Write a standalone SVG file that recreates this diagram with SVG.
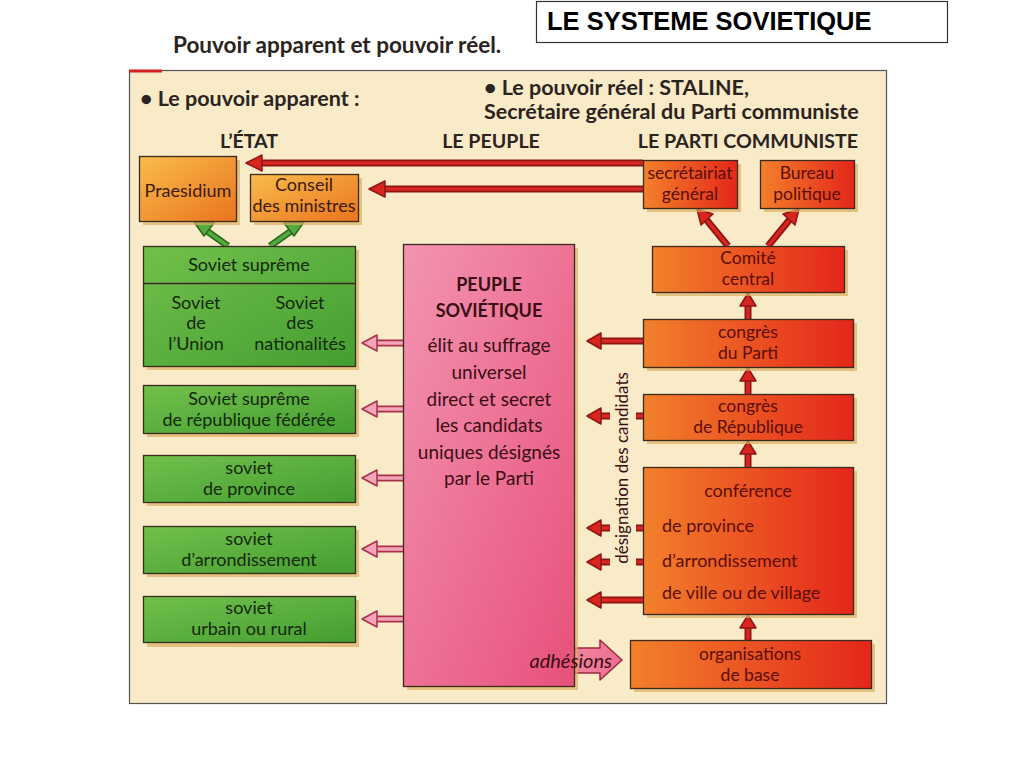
<svg xmlns="http://www.w3.org/2000/svg" width="1024" height="768" viewBox="0 0 1024 768">
<defs>
<linearGradient id="gState" x1="0" y1="0" x2="1" y2="1"><stop offset="0" stop-color="#f8bc4c"/><stop offset="1" stop-color="#ea741e"/></linearGradient>
<linearGradient id="gParty" x1="0" y1="0" x2="1" y2="0"><stop offset="0" stop-color="#f2802a"/><stop offset="1" stop-color="#e4261a"/></linearGradient>
<linearGradient id="gGreen" x1="0" y1="0" x2="1" y2="1"><stop offset="0" stop-color="#72c04c"/><stop offset="1" stop-color="#449e30"/></linearGradient>
<linearGradient id="gPink" x1="0" y1="0" x2="1" y2="1"><stop offset="0" stop-color="#f294b0"/><stop offset="1" stop-color="#e8507c"/></linearGradient>
<linearGradient id="gAdh" x1="0" y1="0" x2="1" y2="0"><stop offset="0" stop-color="#f7a8bc"/><stop offset="1" stop-color="#ee6e90"/></linearGradient>
</defs>
<style>
text{font-family:Lato,"Open Sans","Liberation Sans",sans-serif}
.hd{font-weight:bold;fill:#2b2320}
.h1{font-size:21.5px}
.h2{font-size:19.6px;text-anchor:middle}
.box{stroke:#3a2a20;stroke-width:1.3}
.sh{fill:#dcae62;opacity:.7}
.st{font-size:18px;fill:#3a1a0c;text-anchor:middle}
.gt{font-size:18px;fill:#14280c;text-anchor:middle}
.pt{font-size:17.5px;fill:#5a0e0a;text-anchor:middle}
.ps{font-size:18px;fill:#5a0e0a;text-anchor:start}
.pk{font-size:19px;fill:#3a0e12;text-anchor:middle}
.ro{stroke:#8e1414;stroke-width:7;fill:none}
.ri{stroke:#d8261e;stroke-width:3.5;fill:none}
.rh{fill:#d8261e;stroke:#8e1414;stroke-width:1.5;stroke-linejoin:round}
.po{stroke:#a8304a;stroke-width:7;fill:none}
.pi{stroke:#f4a6b8;stroke-width:3.5;fill:none}
.ph{fill:#f4a6b8;stroke:#a8304a;stroke-width:1.5;stroke-linejoin:round}
.go{stroke:#2a6a1c;stroke-width:7;fill:none}
.gi{stroke:#54aa3c;stroke-width:3.5;fill:none}
.gh{fill:#54aa3c;stroke:#2a6a1c;stroke-width:1.5;stroke-linejoin:round}
</style>
<rect width="1024" height="768" fill="#ffffff"/>
<g id="title">
<rect x="536.5" y="1.5" width="411" height="41" fill="#ffffff" stroke="#333" stroke-width="1.2"/>
<text x="547" y="30" style="font-family:'Liberation Sans',Arial,sans-serif;font-weight:bold;font-size:25.5px;fill:#000">LE SYSTEME SOVIETIQUE</text>
</g>
<text class="hd" x="173" y="53" font-size="22.5">Pouvoir apparent et pouvoir réel.</text>
<rect x="129.5" y="70.5" width="757" height="633" fill="#f9eac8" stroke="#555" stroke-width="1.2"/>
<line x1="129" y1="71" x2="162" y2="71" stroke="#d42020" stroke-width="3"/>
<text class="hd h1" x="140" y="106">• Le pouvoir apparent :</text>
<text class="hd h1" x="484" y="95">• Le pouvoir réel : STALINE,</text>
<text class="hd h1" x="484" y="119">Secrétaire général du Parti communiste</text>
<text class="hd h2" x="249" y="148">L’ÉTAT</text>
<text class="hd h2" x="491" y="148">LE PEUPLE</text>
<text class="hd h2" x="748" y="148">LE PARTI COMMUNISTE</text>

<g id="connectors">
<path class="ro" d="M643 163H258"/><path class="ri" d="M643 163H258"/>
<polygon class="rh" points="246,163 262,155 262,171"/>
<path class="ro" d="M643 189H381"/><path class="ri" d="M643 189H381"/>
<polygon class="rh" points="369,189 385,181 385,197"/>
<path class="go" d="M228 246L204 229"/><path class="gi" d="M228 246L204 229"/>
<polygon class="gh" points="194,222 214,223 204,236"/>
<path class="go" d="M270 246L294 229"/><path class="gi" d="M270 246L294 229"/>
<polygon class="gh" points="304,222 294,236 284,223"/>
<path class="po" d="M403 343H372"/><path class="pi" d="M403 343H372"/><polygon class="ph" points="362,343 377,335 377,351"/>
<path class="po" d="M403 409H372"/><path class="pi" d="M403 409H372"/><polygon class="ph" points="362,409 377,401 377,417"/>
<path class="po" d="M403 478H372"/><path class="pi" d="M403 478H372"/><polygon class="ph" points="362,478 377,470 377,486"/>
<path class="po" d="M403 549H372"/><path class="pi" d="M403 549H372"/><polygon class="ph" points="362,549 377,541 377,557"/>
<path class="po" d="M403 619H372"/><path class="pi" d="M403 619H372"/><polygon class="ph" points="362,619 377,611 377,627"/>
<path class="ro" d="M643 341H598"/><path class="ri" d="M643 341H598"/><polygon class="rh" points="587,341 601,333 601,349"/>
<path class="ro" d="M610 416H598M636 416H643"/><path class="ri" d="M610 416H598M636 416H643"/><polygon class="rh" points="587,416 601,408 601,424"/>
<path class="ro" d="M610 528H598M636 528H643"/><path class="ri" d="M610 528H598M636 528H643"/><polygon class="rh" points="587,528 601,520 601,536"/>
<path class="ro" d="M610 562H598M636 562H643"/><path class="ri" d="M610 562H598M636 562H643"/><polygon class="rh" points="587,562 601,554 601,570"/>
<path class="ro" d="M643 600H598"/><path class="ri" d="M643 600H598"/><polygon class="rh" points="587,600 601,592 601,608"/>
<path class="ro" d="M748 640V626"/><path class="ri" d="M748 640V626"/><polygon class="rh" points="748,615 756,628 740,628"/>
<path class="ro" d="M748 467V452"/><path class="ri" d="M748 467V452"/><polygon class="rh" points="748,441 756,454 740,454"/>
<path class="ro" d="M748 394V379"/><path class="ri" d="M748 394V379"/><polygon class="rh" points="748,368 756,381 740,381"/>
<path class="ro" d="M748 319V304"/><path class="ri" d="M748 319V304"/><polygon class="rh" points="748,293 756,306 740,306"/>
<path class="ro" d="M728 246L705 218"/><path class="ri" d="M728 246L705 218"/><polygon class="rh" points="697,209 713,214 701,225"/>
<path class="ro" d="M768 246L791 218"/><path class="ri" d="M768 246L791 218"/><polygon class="rh" points="799,209 795,225 783,214"/>
<polygon points="497,648 600,648 600,640 622,660 600,680 600,673 497,673" fill="url(#gAdh)" stroke="#9a2a3e" stroke-width="1.5" stroke-linejoin="round"/>
</g>

<g id="praesidium">
<rect class="sh" x="143" y="160" width="97" height="65"/>
<rect class="box" x="139.5" y="156.5" width="97" height="65" fill="url(#gState)"/>
<text class="st" x="188" y="197">Praesidium</text>
</g>
<g id="conseil">
<rect class="sh" x="254" y="178" width="108" height="47"/>
<rect class="box" x="250.5" y="174.5" width="108" height="47" fill="url(#gState)"/>
<text class="st" x="304" y="191">Conseil</text>
<text class="st" x="304" y="212">des ministres</text>
</g>
<g id="secretariat">
<rect class="sh" x="647" y="164" width="94" height="48"/>
<rect class="box" x="643.5" y="160.5" width="94" height="48" fill="url(#gParty)"/>
<text class="pt" x="690" y="179">secrétairiat</text>
<text class="pt" x="690" y="200">général</text>
</g>
<g id="bureau">
<rect class="sh" x="764" y="164" width="94" height="48"/>
<rect class="box" x="760.5" y="160.5" width="94" height="48" fill="url(#gParty)"/>
<text class="pt" x="807" y="179">Bureau</text>
<text class="pt" x="807" y="200">politique</text>
</g>
<g id="soviet-supreme">
<rect class="sh" x="147" y="250" width="212" height="120"/>
<rect class="box" x="143.5" y="246.5" width="212" height="120" fill="url(#gGreen)"/>
<line x1="143.5" y1="283.5" x2="355.5" y2="283.5" stroke="#3a2a20" stroke-width="1.3"/>
<text class="gt" x="249" y="271">Soviet suprême</text>
<text class="gt" x="196" y="309">Soviet</text>
<text class="gt" x="196" y="329">de</text>
<text class="gt" x="196" y="350">l’Union</text>
<text class="gt" x="300" y="309">Soviet</text>
<text class="gt" x="300" y="329">des</text>
<text class="gt" x="300" y="350">nationalités</text>
</g>
<g id="soviet-republique">
<rect class="sh" x="147" y="389" width="212" height="48"/>
<rect class="box" x="143.5" y="385.5" width="212" height="48" fill="url(#gGreen)"/>
<text class="gt" x="249" y="405">Soviet suprême</text>
<text class="gt" x="249" y="426">de république fédérée</text>
</g>
<g id="soviet-province">
<rect class="sh" x="147" y="459" width="212" height="47"/>
<rect class="box" x="143.5" y="455.5" width="212" height="47" fill="url(#gGreen)"/>
<text class="gt" x="249" y="474">soviet</text>
<text class="gt" x="249" y="495">de province</text>
</g>
<g id="soviet-arrondissement">
<rect class="sh" x="147" y="530" width="212" height="47"/>
<rect class="box" x="143.5" y="526.5" width="212" height="47" fill="url(#gGreen)"/>
<text class="gt" x="249" y="545">soviet</text>
<text class="gt" x="249" y="566">d’arrondissement</text>
</g>
<g id="soviet-urbain">
<rect class="sh" x="147" y="600" width="212" height="47"/>
<rect class="box" x="143.5" y="596.5" width="212" height="46" fill="url(#gGreen)"/>
<text class="gt" x="249" y="614">soviet</text>
<text class="gt" x="249" y="635">urbain ou rural</text>
</g>
<g id="peuple">
<rect class="sh" x="407" y="248" width="171" height="442"/>
<rect class="box" x="403.5" y="244.5" width="171" height="442" fill="url(#gPink)"/>
<text class="pk" x="489" y="291" font-weight="bold" style="font-size:18px">PEUPLE</text>
<text class="pk" x="489" y="317" font-weight="bold" style="font-size:18px">SOVIÉTIQUE</text>
<text class="pk" x="489" y="352">élit au suffrage</text>
<text class="pk" x="489" y="379">universel</text>
<text class="pk" x="489" y="406">direct et secret</text>
<text class="pk" x="489" y="432">les candidats</text>
<text class="pk" x="489" y="459">uniques désignés</text>
<text class="pk" x="489" y="485">par le Parti</text>
</g>
<g id="comite">
<rect class="sh" x="656" y="250" width="192" height="46"/>
<rect class="box" x="652.5" y="246.5" width="192" height="46" fill="url(#gParty)"/>
<text class="pt" x="748" y="264">Comité</text>
<text class="pt" x="748" y="285">central</text>
</g>
<g id="congres-parti">
<rect class="sh" x="647" y="323" width="210" height="48"/>
<rect class="box" x="643.5" y="319.5" width="210" height="48" fill="url(#gParty)"/>
<text class="pt" x="748" y="338">congrès</text>
<text class="pt" x="748" y="359">du Parti</text>
</g>
<g id="congres-republique">
<rect class="sh" x="647" y="398" width="210" height="46"/>
<rect class="box" x="643.5" y="394.5" width="210" height="46" fill="url(#gParty)"/>
<text class="pt" x="748" y="412">congrès</text>
<text class="pt" x="748" y="433">de République</text>
</g>
<g id="conference">
<rect class="sh" x="647" y="471" width="210" height="147"/>
<rect class="box" x="643.5" y="467.5" width="210" height="147" fill="url(#gParty)"/>
<text class="pt" x="748" y="497" style="font-size:18px">conférence</text>
<text class="ps" x="662" y="532">de province</text>
<text class="ps" x="662" y="567">d’arrondissement</text>
<text class="ps" x="662" y="599">de ville ou de village</text>
</g>
<g id="organisations">
<rect class="sh" x="634" y="644" width="241" height="48"/>
<rect class="box" x="630.5" y="640.5" width="241" height="48" fill="url(#gParty)"/>
<text class="pt" x="750" y="660">organisations</text>
<text class="pt" x="750" y="681">de base</text>
</g>
<text x="612" y="668" text-anchor="end" font-size="20" font-style="italic" fill="#3a0e12">adhésions</text>
<text transform="translate(628 468) rotate(-90)" text-anchor="middle" font-size="17" fill="#3a0e12">désignation des candidats</text>
</svg>
